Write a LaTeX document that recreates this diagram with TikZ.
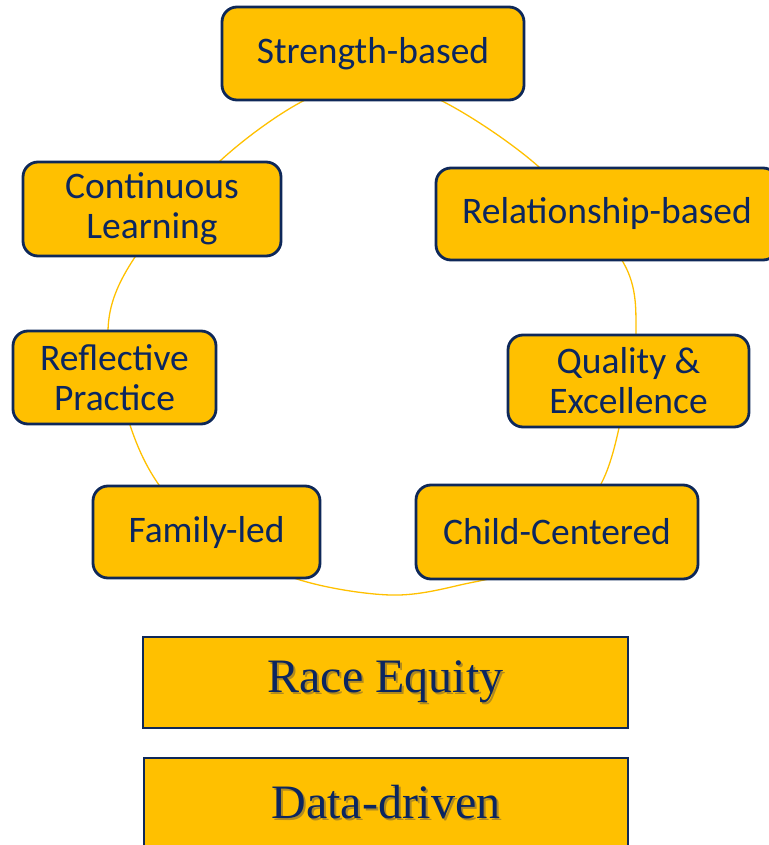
\documentclass[tikz,border=0pt]{standalone}
\usepackage{fontspec}
\setmainfont{Carlito}
\newfontfamily\boxserif{Liberation Serif}
\definecolor{gold}{HTML}{FFC000}
\definecolor{navyline}{HTML}{0E2859}
\definecolor{navytext}{HTML}{0B2660}
\definecolor{shadowgrey}{HTML}{B08A20}
\newcommand{\shadowtxt}[1]{\makebox[0pt][l]{\raisebox{-2pt}{\hspace{2pt}\textcolor{shadowgrey}{#1}}}#1}
\begin{document}
\begin{tikzpicture}[x=1pt,y=-1pt,
  valuebox/.style={draw=navyline, line width=2.8pt, fill=gold, rounded corners=15pt,
    text=navytext, inner sep=0pt, align=center,
    font=\fontsize{37.5}{40}\selectfont},
  basebox/.style={draw=navyline, line width=2.8pt, fill=gold, inner sep=0pt,
    text=navytext, font=\boxserif\fontsize{48}{52}\selectfont},
  ring/.style={draw=gold, line width=1.3pt}]
\useasboundingbox (0,0) rectangle (768,845);
% ring behind the boxes
\draw[ring] plot[smooth cycle, tension=0.55] coordinates {
  (373,84) (442,101) (539,167) (623,262) (636,333) (625,400) (601,484)
  (540,560) (460,585) (390,595) (300,580) (210,540) (159,485) (130,425)
  (108,330) (135,257) (220,161) (305,100)};
% cycle boxes
\node[valuebox, minimum width=302pt, minimum height=93pt] (S)  at (373,53.5) {Strength-based};
\node[valuebox, minimum width=342pt, minimum height=92pt] (R)  at (607,214) {Relationship-based};
\node[valuebox, minimum width=258pt, minimum height=94pt] (C)  at (152,209) {Continuous\\Learning};
\node[valuebox, minimum width=203pt, minimum height=93pt] (Rf) at (114.5,377.5) {Reflective\\Practice};
\node[valuebox, minimum width=241pt, minimum height=92pt] (Q)  at (628.5,381) {Quality \&\\Excellence};
\node[valuebox, minimum width=227pt, minimum height=92pt] (F)  at (206.5,532) {Family-led};
\node[valuebox, minimum width=282pt, minimum height=94pt] (Ch) at (557,532) {Child-Centered};
% base boxes
\node[basebox, minimum width=485pt, minimum height=91pt] (RE) at (385.5,682.5) {\shadowtxt{Race Equity}};
\node[basebox, minimum width=484pt, minimum height=91pt] (DD) at (386,803.5) {\shadowtxt{Data-driven}};
\end{tikzpicture}
\end{document}
